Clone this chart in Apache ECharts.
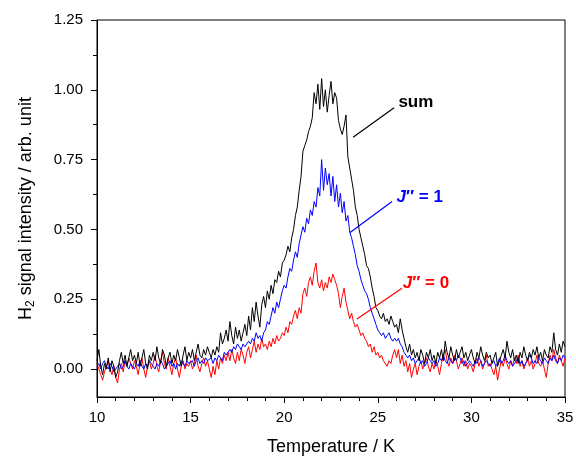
<!DOCTYPE html>
<html><head><meta charset="utf-8">
<script src="https://cdn.jsdelivr.net/npm/echarts@6/dist/echarts.min.js"></script>
<style>html,body{margin:0;padding:0;background:#fff}#c{width:576px;height:456px}</style>
</head><body><div id="c"></div>
<script>
// Temperature sampling grid (K)
const tStart = 10, tStep = 0.1;
// J'' = 0 (red)
const j0 = [
 0.02,0.00,-0.02,-0.04,-0.01,0.01,0.03,0.00,-0.02,0.01,
 -0.03,-0.05,0.00,0.02,-0.01,0.03,0.01,0.04,0.02,0.00,
 0.03,0.01,-0.02,0.02,0.04,0.00,-0.03,0.01,0.03,0.00,
 0.02,0.05,0.01,-0.01,0.03,0.06,0.02,0.00,0.04,0.01,
 -0.02,0.02,0.04,0.00,-0.03,0.01,0.03,0.00,0.02,0.01,
 0.03,0.00,0.02,0.05,0.01,-0.01,0.02,0.04,0.01,0.03,
 0.00,-0.03,0.01,-0.02,0.03,0.00,0.04,0.02,0.05,0.03,
 0.06,0.03,0.07,0.04,0.02,0.06,0.03,0.07,0.05,0.02,
 0.06,0.08,0.04,0.07,0.10,0.06,0.09,0.07,0.11,0.08,
 0.09,0.07,0.10,0.08,0.11,0.09,0.12,0.10,0.11,0.13,
 0.12,0.15,0.13,0.17,0.16,0.19,0.21,0.18,0.22,0.20,
 0.27,0.29,0.26,0.31,0.33,0.30,0.35,0.38,0.31,0.29,
 0.32,0.28,0.31,0.29,0.33,0.31,0.34,0.32,0.30,0.27,
 0.22,0.26,0.29,0.24,0.21,0.18,0.20,0.17,0.15,0.16,
 0.14,0.12,0.13,0.11,0.10,0.08,0.09,0.06,0.08,0.05,
 0.06,0.04,0.05,0.03,0.02,0.01,0.03,0.02,0.05,0.07,
 0.04,0.07,0.02,0.05,0.01,0.03,-0.01,0.02,-0.03,0.00,
 0.02,-0.02,0.01,0.03,0.00,0.02,0.04,0.01,-0.01,0.02,
 0.00,0.03,0.01,-0.02,0.02,0.05,0.07,0.03,0.01,0.04,
 0.02,0.05,0.03,0.00,0.02,0.04,0.01,0.03,0.00,0.02,
 0.01,-0.01,0.02,0.04,0.01,0.03,0.00,0.02,0.05,0.01,
 0.02,0.00,-0.02,0.01,-0.04,0.00,0.03,0.01,0.04,0.02,
 0.00,0.03,0.01,0.04,0.02,0.05,0.01,0.03,0.00,0.02,
 0.04,0.01,0.03,0.00,0.02,0.05,0.02,0.01,0.03,0.00,
 -0.03,0.02,0.05,0.03,0.07,0.04,0.02,0.05,0.03,0.01,
 0.04
];
// J'' = 1 (blue)
const j1 = [
 0.01,0.02,0.00,0.02,0.03,0.01,0.00,0.02,0.01,-0.01,
 0.00,0.01,0.02,0.00,0.01,0.03,0.01,0.00,0.02,0.01,
 0.00,0.02,0.01,0.03,0.01,0.00,0.02,0.01,0.03,0.02,
 0.01,0.00,0.02,0.01,0.03,0.02,0.00,0.01,0.02,0.03,
 0.01,0.02,0.00,0.02,0.01,0.03,0.02,0.01,0.03,0.02,
 0.02,0.03,0.01,0.03,0.04,0.02,0.03,0.02,0.04,0.03,
 0.03,0.04,0.02,0.04,0.03,0.05,0.04,0.03,0.06,0.05,
 0.05,0.07,0.06,0.08,0.07,0.09,0.08,0.07,0.09,0.08,
 0.08,0.10,0.09,0.11,0.10,0.13,0.11,0.12,0.10,0.13,
 0.14,0.17,0.16,0.19,0.22,0.20,0.24,0.22,0.25,0.28,
 0.30,0.29,0.33,0.36,0.35,0.39,0.42,0.40,0.45,0.48,
 0.51,0.49,0.54,0.52,0.57,0.55,0.60,0.58,0.65,0.62,
 0.75,0.64,0.72,0.66,0.70,0.62,0.69,0.60,0.66,0.58,
 0.63,0.56,0.60,0.53,0.55,0.49,0.47,0.44,0.41,0.37,
 0.35,0.32,0.30,0.28,0.27,0.25,0.22,0.20,0.18,0.16,
 0.14,0.13,0.12,0.13,0.11,0.12,0.13,0.11,0.10,0.11,
 0.10,0.11,0.09,0.08,0.06,0.05,0.04,0.05,0.03,0.04,
 0.02,0.03,0.04,0.02,0.03,0.01,0.02,0.04,0.03,0.02,
 0.03,0.01,0.02,0.04,0.03,0.05,0.03,0.02,0.04,0.03,
 0.02,0.04,0.03,0.05,0.04,0.02,0.03,0.01,0.02,0.03,
 0.02,0.01,0.03,0.02,0.04,0.03,0.01,0.02,0.03,0.02,
 0.01,0.02,0.03,0.01,0.02,0.04,0.02,0.03,0.05,0.03,
 0.02,0.03,0.01,0.02,0.03,0.04,0.02,0.03,0.01,0.02,
 0.03,0.05,0.04,0.02,0.03,0.02,0.04,0.03,0.02,0.04,
 0.03,0.02,0.04,0.03,0.05,0.03,0.02,0.04,0.03,0.05,
 0.04
];
// sum (black)
const sum = [
 0.03,0.07,0.01,-0.02,0.02,0.00,0.04,-0.01,0.03,0.01,
 -0.03,-0.01,0.03,0.06,0.02,0.05,0.01,0.04,0.07,0.03,
 0.05,0.02,0.06,0.01,0.04,0.07,0.02,0.00,0.05,0.03,
 0.06,0.03,0.08,0.04,0.02,0.07,0.05,0.01,0.04,0.06,
 0.02,0.05,0.03,0.07,0.04,0.01,0.05,0.08,0.03,0.06,
 0.04,0.07,0.03,0.06,0.09,0.05,0.04,0.07,0.05,0.08,
 0.06,0.04,0.07,0.05,0.08,0.06,0.13,0.09,0.11,0.14,
 0.10,0.17,0.12,0.09,0.15,0.11,0.14,0.10,0.13,0.16,
 0.12,0.19,0.14,0.22,0.17,0.24,0.19,0.15,0.23,0.26,
 0.22,0.28,0.25,0.30,0.27,0.32,0.31,0.35,0.33,0.38,
 0.39,0.41,0.44,0.42,0.47,0.50,0.55,0.58,0.64,0.69,
 0.78,0.80,0.82,0.85,0.87,0.90,0.99,0.95,1.02,0.93,
 1.04,0.94,1.00,0.92,0.98,1.03,0.95,0.99,0.97,0.89,
 0.86,0.84,0.87,0.91,0.76,0.72,0.68,0.64,0.58,0.55,
 0.50,0.47,0.44,0.41,0.37,0.36,0.33,0.29,0.26,0.22,
 0.21,0.19,0.18,0.20,0.17,0.18,0.16,0.19,0.17,0.15,
 0.16,0.13,0.18,0.14,0.11,0.08,0.06,0.09,0.05,0.07,
 0.04,0.06,0.03,0.07,0.05,0.02,0.06,0.04,0.07,0.03,
 0.05,0.02,0.06,0.04,0.07,0.03,0.10,0.06,0.04,0.08,
 0.05,0.03,0.07,0.04,0.06,0.08,0.04,0.06,0.03,0.05,
 0.07,0.04,0.02,0.06,0.04,0.08,0.05,0.03,0.06,0.04,
 0.05,0.02,0.04,0.06,0.01,0.03,0.05,0.07,0.04,0.10,
 0.06,0.04,0.07,0.03,0.05,0.02,0.06,0.04,0.08,0.05,
 0.03,0.06,0.04,0.07,0.05,0.08,0.04,0.06,0.03,0.07,
 0.05,0.04,0.08,0.06,0.13,0.07,0.05,0.09,0.06,0.10,
 0.08
];
const yTicks = [0, 0.25, 0.5, 0.75, 1.0, 1.25];
const yMinorTicks = [0.125, 0.375, 0.625, 0.875, 1.125];
// annotation anchors (data space): [lineStart, lineEnd, textAnchor]
const annSum = [[23.68, 0.83], [25.87, 0.936], [26.1, 0.957]];
const annJ1 = [[23.52, 0.489], [25.76, 0.60], [26.0, 0.614]];
const annJ0 = [[23.89, 0.179], [26.29, 0.289], [26.33, 0.307]];

const FONT = "'Liberation Sans', Arial, sans-serif";
const pair = a => a.map((v, i) => [+(tStart + i * tStep).toFixed(1), v]);

function ann(a, color, text) {
  return {
    markLine: {
      silent: true, symbol: 'none', animation: false,
      lineStyle: { color: color, width: 1.2, type: 'solid' },
      label: { show: false },
      data: [[{ coord: a[0] }, { coord: a[1] }]]
    },
    markPoint: {
      silent: true, symbol: 'circle', symbolSize: 0, animation: false,
      data: [{ coord: a[2], value: 0 }],
      label: {
        show: true, position: 'right', distance: 0, formatter: text,
        color: color, fontFamily: FONT, fontSize: 17, fontWeight: 'bold',
        rich: {
          i: { fontStyle: 'italic', fontWeight: 'bold', fontSize: 17, color: color, fontFamily: FONT },
          n: { fontWeight: 'bold', fontSize: 17, color: color, fontFamily: FONT }
        }
      }
    }
  };
}

const chart = echarts.init(document.getElementById('c'), null, { renderer: 'canvas' });
const mkSeries = (name, data, color, a, text) => Object.assign({
  name: name, type: 'line', data: pair(data), showSymbol: false, symbol: 'none',
  lineStyle: { color: color, width: 1 }, itemStyle: { color: color },
  animation: false, z: 2
}, ann(a, color, text));

chart.setOption({
  animation: false,
  grid: { left: 97, right: 11, top: 20, bottom: 59, containLabel: false, outerBoundsMode: 'none',
    show: true, borderColor: '#000', borderWidth: 1, backgroundColor: 'transparent' },
  xAxis: {
    type: 'value', min: 10, max: 35, interval: 5,
    name: 'Temperature / K', nameLocation: 'middle', nameGap: 41,
    nameTextStyle: { fontFamily: FONT, fontSize: 18, color: '#000' },
    axisLine: { show: true, onZero: false, lineStyle: { color: '#000', width: 1 } },
    axisTick: { show: true, inside: false, length: 6, lineStyle: { color: '#000' } },
    minorTick: { show: true, splitNumber: 5, length: 4, lineStyle: { color: '#000' } },
    splitLine: { show: false },
    axisLabel: { fontFamily: FONT, fontSize: 15, color: '#000', margin: 13 }
  },
  yAxis: [{
    type: 'value', min: -0.1, max: 1.25,
    name: '{h|H}{s|2}{h| signal intensity / arb. unit}', nameLocation: 'middle', nameGap: 60, nameRotate: 90,
    nameTextStyle: {
      fontFamily: FONT, fontSize: 18, color: '#000',
      rich: {
        h: { fontFamily: FONT, fontSize: 18, color: '#000' },
        s: { fontFamily: FONT, fontSize: 12, color: '#000', padding: [9, 0, 0, 0] }
      }
    },
    axisLine: { show: true, onZero: false, lineStyle: { color: '#000', width: 1 } },
    axisTick: { show: true, inside: false, length: 6, customValues: yTicks, lineStyle: { color: '#000' } },
    splitLine: { show: false },
    axisLabel: { fontFamily: FONT, fontSize: 15, color: '#000', margin: 14, customValues: yTicks,
      formatter: v => v.toFixed(2) }
  }, {
    type: 'value', min: -0.1, max: 1.25, position: 'left', offset: 0,
    axisLine: { show: false },
    axisTick: { show: true, inside: false, length: 4, customValues: yMinorTicks, lineStyle: { color: '#000' } },
    axisLabel: { show: false, customValues: yMinorTicks },
    splitLine: { show: false }
  }],
  series: [
    mkSeries("J''=0", j0, '#ff0000', annJ0, '{i|J}{n|″ = 0}'),
    mkSeries("J''=1", j1, '#0000ff', annJ1, '{i|J}{n|″ = 1}'),
    mkSeries('sum', sum, '#000000', annSum, 'sum')
  ]
});
</script></body></html>
